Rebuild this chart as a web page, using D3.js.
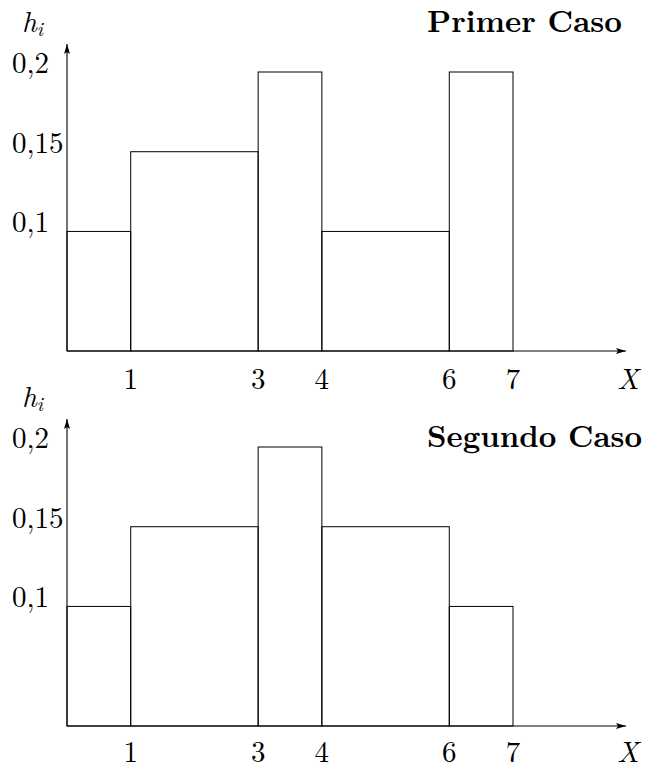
<!DOCTYPE html>
<html>
<head>
<meta charset="utf-8">
<script src="https://cdn.jsdelivr.net/npm/d3@7"></script>
<style>
  body { margin: 0; background: #fff; }
</style>
</head>
<body>
<div id="chart"></div>
<script>
// class limits and heights h_i for each case
var edges = [0, 1, 3, 4, 6, 7];
var primerCaso = [0.1, 0.15, 0.2, 0.1, 0.2];
var segundoCaso = [0.1, 0.15, 0.2, 0.15, 0.1];
var xTicks = [1, 3, 4, 6, 7];
var yTicks = [0.1, 0.15, 0.2];
var yTickLabels = ["0,1", "0,15", "0,2"];
var titles = ["Primer Caso", "Segundo Caso"];

const FONT = "Latin Modern Roman, Liberation Serif, serif";

let svg = d3.select("#chart")
            .append("svg")
            .attr("width", 647)
            .attr("height", 767)
            .attr("font-family", FONT);

svg.append("defs").append("marker")
   .attr("id", "arrow")
   .attr("viewBox", "0 0 10 6")
   .attr("refX", 10)
   .attr("refY", 3)
   .attr("markerWidth", 10)
   .attr("markerHeight", 6)
   .attr("markerUnits", "userSpaceOnUse")
   .attr("orient", "auto")
   .append("path")
   .attr("d", "M0,0 L10,3 L0,6 L2,3 Z")
   .attr("fill", "#000");

let x = d3.scaleLinear().domain([0, 7]).range([67, 513]);
// baseline of the axis sits a bit above zero in the original figure
let y = d3.scaleLinear().domain([0.025, 0.2]).range([351, 72]);

function drawPanel(values, title, offset, titleY, titleW, tickY) {
  let g = svg.append("g").attr("transform", "translate(0," + offset + ")");

  let bins = values.map((v, i) => ({ x0: edges[i], x1: edges[i + 1], h: v }));

  g.selectAll("rect")
    .data(bins)
    .enter()
    .append("rect")
    .attr("x", d => x(d.x0))
    .attr("y", d => y(d.h))
    .attr("width", d => x(d.x1) - x(d.x0))
    .attr("height", d => y.range()[0] - y(d.h))
    .attr("fill", "none")
    .attr("stroke", "#000")
    .attr("stroke-width", 1);

  // axes with arrow heads
  g.append("line")
    .attr("x1", x(0)).attr("y1", y.range()[0])
    .attr("x2", 626).attr("y2", y.range()[0])
    .attr("stroke", "#000").attr("stroke-width", 1.1)
    .attr("marker-end", "url(#arrow)");
  g.append("line")
    .attr("x1", x(0)).attr("y1", y.range()[0])
    .attr("x2", x(0)).attr("y2", 44)
    .attr("stroke", "#000").attr("stroke-width", 1.1)
    .attr("marker-end", "url(#arrow)");

  g.selectAll(".xt")
    .data(xTicks)
    .enter()
    .append("text")
    .attr("class", "xt")
    .attr("x", d => x(d))
    .attr("y", tickY)
    .attr("text-anchor", "middle")
    .attr("font-family", FONT)
    .attr("font-size", 29)
    .text(d => d);

  g.selectAll(".yt")
    .data(yTicks)
    .enter()
    .append("text")
    .attr("class", "yt")
    .attr("x", 12)
    .attr("y", d => y(d) + 1)
    .attr("font-family", FONT)
    .attr("font-size", 29)
    .text((d, i) => yTickLabels[i]);

  g.append("text")
    .attr("x", 628)
    .attr("y", tickY)
    .attr("text-anchor", "middle")
    .attr("font-family", FONT)
    .attr("font-size", 29)
    .attr("font-style", "italic")
    .text("X");

  let hl = g.append("text")
    .attr("x", 22)
    .attr("y", 32)
    .attr("font-family", FONT)
    .attr("font-size", 29)
    .attr("font-style", "italic");
  hl.append("tspan").text("h");
  hl.append("tspan").attr("dy", 4).attr("font-size", 20).text("i");

  g.append("text")
    .attr("x", 427)
    .attr("y", titleY)
    .attr("font-family", FONT)
    .attr("font-size", 31)
    .attr("font-weight", "bold")
    .attr("textLength", titleW)
    .attr("lengthAdjust", "spacingAndGlyphs")
    .text(title);
}

drawPanel(primerCaso, titles[0], 0, 32, 195, 389);
drawPanel(segundoCaso, titles[1], 375, 72, 215, 387);
</script>
</body>
</html>
